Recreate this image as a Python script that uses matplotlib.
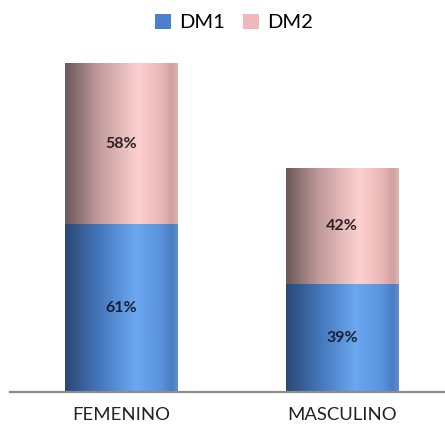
import numpy as np
import matplotlib
matplotlib.use("Agg")
import matplotlib.pyplot as plt
from matplotlib.colors import LinearSegmentedColormap
from matplotlib.patches import Patch

plt.rcParams["font.family"] = ["Lato", "DejaVu Sans"]

# ---------------------------------
# Data
# ---------------------------------
categories = ["FEMENINO", "MASCULINO"]
series_names = ["DM1", "DM2"]
dm1 = [61, 39]
dm2 = [58, 42]

# ---------------------------------
# Colours (cylinder-like shading)
# ---------------------------------
legend_colors = ["#4a80cc", "#f0b9b9"]
blue_cmap = LinearSegmentedColormap.from_list("blue_cyl", [
    (0.0, "#2a4874"), (0.3, "#4576bb"), (0.62, "#6aa8f0"),
    (0.85, "#5a93dc"), (0.95, "#4a7dc0"), (1.0, "#5c90d6")])
pink_cmap = LinearSegmentedColormap.from_list("pink_cyl", [
    (0.0, "#6c585a"), (0.3, "#c39b9d"), (0.65, "#fdd1d0"),
    (0.85, "#e9b7b6"), (0.95, "#cfa0a0"), (1.0, "#e2b5b5")])

fig = plt.figure(figsize=(4.45, 4.4), dpi=100)
ax = fig.add_axes([10 / 445, 48 / 440, 435 / 445, 352 / 440])

x = np.arange(len(categories))
width = 0.51

bars1 = ax.bar(x, dm1, width, color=legend_colors[0], edgecolor="none")
bars2 = ax.bar(x, dm2, width, bottom=dm1, color=legend_colors[1], edgecolor="none")

# horizontal gradient clipped to each bar
grad = np.linspace(0, 1, 256).reshape(1, -1)
for bars, cmap in [(bars1, blue_cmap), (bars2, pink_cmap)]:
    for b in bars:
        x0, y0 = b.get_x(), b.get_y()
        im = ax.imshow(grad, cmap=cmap, aspect="auto",
                       extent=[x0, x0 + b.get_width(), y0, y0 + b.get_height()],
                       zorder=2)
        im.set_clip_path(b)

# value labels
for i in range(len(categories)):
    ax.text(x[i], dm1[i] / 2, f"{dm1[i]}%", ha="center", va="center",
            fontsize=11.5, fontweight="bold", color="#1b1f33", zorder=3)
    ax.text(x[i], dm1[i] + dm2[i] / 2, f"{dm2[i]}%", ha="center", va="center",
            fontsize=11.5, fontweight="bold", color="#2a1f22", zorder=3)

ax.set_xlim(-0.502, 1.466)
ax.set_ylim(0, 127.5)

for s in ["top", "right", "left"]:
    ax.spines[s].set_visible(False)
ax.spines["bottom"].set_color("#8c8c8c")
ax.spines["bottom"].set_linewidth(1.6)
ax.set_yticks([])
ax.set_xticks(x)
ax.set_xticklabels(categories, fontsize=13.3, color="#222222")
ax.tick_params(axis="x", length=0, pad=11)

handles = [Patch(facecolor=c, edgecolor="none") for c in legend_colors]
fig.legend(handles, series_names, loc="upper center", bbox_to_anchor=(0.526, 1.01),
           ncol=2, frameon=False, fontsize=14.5, handlelength=0.8, handleheight=0.8,
           handletextpad=0.4, columnspacing=0.9)

plt.savefig("out.png", dpi=100)
